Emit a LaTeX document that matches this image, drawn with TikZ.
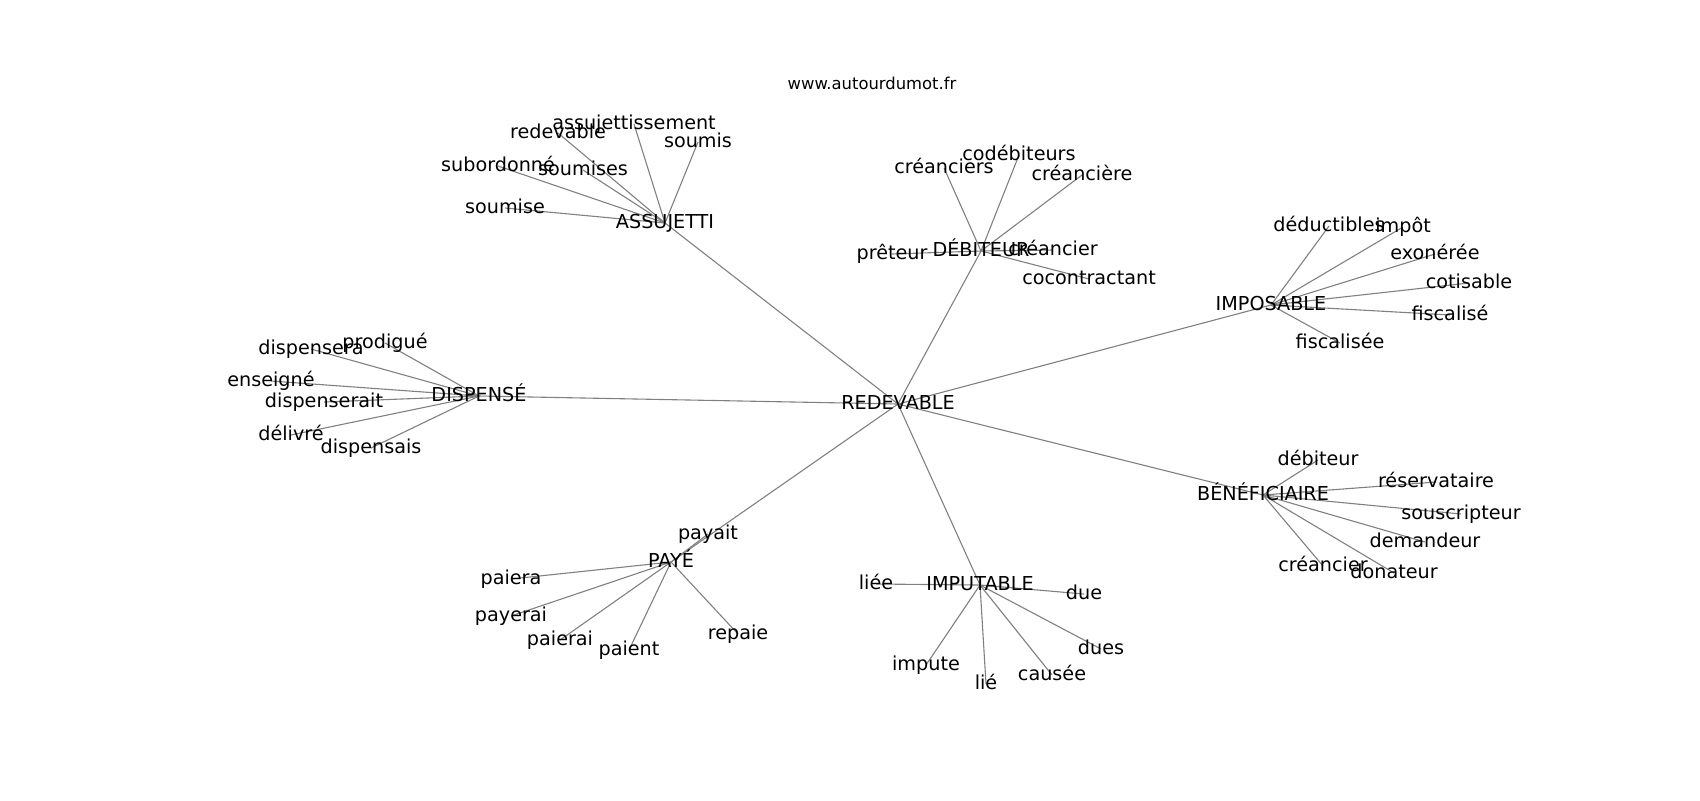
\documentclass[tikz,border=0pt]{standalone}
\usepackage{fontspec}
\setmainfont{DejaVu Sans}
\usetikzlibrary{backgrounds}

\begin{document}
\begin{tikzpicture}[x=0.5pt,y=-0.5pt,word/.style={font=\fontsize{9.6}{11}\selectfont,inner sep=0pt,text height=0.76em,text depth=0.24em},link/.style={draw=gray,line width=0.55pt}]

                \useasboundingbox (0,0) rectangle (1700,800);
                \node[font=\fontsize{8.2}{10}\selectfont,inner sep=0pt] (site) at (872,83) {www.autourdumot.fr};

                \node[word] (red) at (898,404) {REDEVABLE};

                \node[word] (assu) at (665,223) {ASSUJETTI};
                \node[word] (a1) at (558,133) {redevable};
                \node[word] (a2) at (634,124) {assujettissement};
                \node[word] (a3) at (698,142) {soumis};
                \node[word] (a4) at (498,166) {subordonné};
                \node[word] (a5) at (583,170) {soumises};
                \node[word] (a6) at (505,208) {soumise};

                \node[word] (deb) at (981,251) {DÉBITEUR};
                \node[word] (d1) at (944,168) {créanciers};
                \node[word] (d2) at (1019,155) {codébiteurs};
                \node[word] (d3) at (1082,175) {créancière};
                \node[word] (d4) at (1053,250) {créancier};
                \node[word] (d5) at (892,254) {prêteur};
                \node[word] (d6) at (1089,279) {cocontractant};

                \node[word] (impo) at (1271,305) {IMPOSABLE};
                \node[word] (i1) at (1329,226) {déductibles};
                \node[word] (i2) at (1403,227) {impôt};
                \node[word] (i3) at (1435,254) {exonérée};
                \node[word] (i4) at (1469,283) {cotisable};
                \node[word] (i5) at (1450,315) {fiscalisé};
                \node[word] (i6) at (1340,343) {fiscalisée};

                \node[word] (disp) at (479,396) {DISPENSÉ};
                \node[word] (s1) at (385,343) {prodigué};
                \node[word] (s2) at (311,349) {dispensera};
                \node[word] (s3) at (271,381) {enseigné};
                \node[word] (s4) at (324,402) {dispenserait};
                \node[word] (s5) at (291,435) {délivré};
                \node[word] (s6) at (371,448) {dispensais};

                \node[word] (bene) at (1263,495) {BÉNÉFICIAIRE};
                \node[word] (b1) at (1318,460) {débiteur};
                \node[word] (b2) at (1436,482) {réservataire};
                \node[word] (b3) at (1461,514) {souscripteur};
                \node[word] (b4) at (1425,542) {demandeur};
                \node[word] (b5) at (1323,566) {créancier};
                \node[word] (b6) at (1394,573) {donateur};

                \node[word] (paye) at (671,562) {PAYÉ};
                \node[word] (p1) at (708,534) {payait};
                \node[word] (p2) at (511,579) {paiera};
                \node[word] (p3) at (511,616) {payerai};
                \node[word] (p4) at (560,640) {paierai};
                \node[word] (p5) at (629,650) {paient};
                \node[word] (p6) at (738,634) {repaie};

                \node[word] (impu) at (980,585) {IMPUTABLE};
                \node[word] (u1) at (876,584) {liée};
                \node[word] (u2) at (1084,594) {due};
                \node[word] (u3) at (1101,649) {dues};
                \node[word] (u4) at (926,665) {impute};
                \node[word] (u5) at (986,684) {lié};
                \node[word] (u6) at (1052,675) {causée};

                \begin{scope}[on background layer]
                \path[link]
                (red.center) edge (assu.center)
                    edge (deb.center)
                    edge (impo.center)
                    edge (disp.center)
                    edge (bene.center)
                    edge (paye.center)
                    edge (impu.center)
                ;
                \foreach \hub/\leaf in {assu/a,deb/d,impo/i,disp/s,bene/b,paye/p,impu/u}
                    \foreach \k in {1,...,6}
                        \path[link] (\hub.center) -- (\leaf\k.center);
                \end{scope}
            \end{tikzpicture}
\end{document}
